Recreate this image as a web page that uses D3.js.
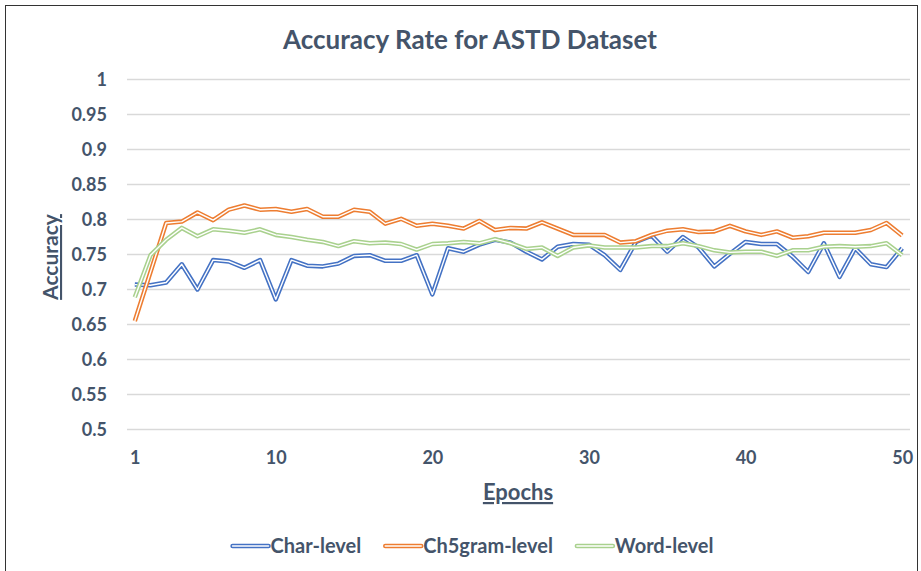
<!DOCTYPE html>
<html>
<head>
<meta charset="utf-8">
<script src="https://cdn.jsdelivr.net/npm/d3@7"></script>
<style>
  body { margin: 0; background: #fff; }
  text { font-family: Lato, "Open Sans", sans-serif; font-weight: 700; fill: #44546a; }
  .gridline line { stroke: #d9d9d9; stroke-width: 1.3; }
</style>
</head>
<body>
<svg id="chart" width="921" height="571"></svg>
<script>
// values
const epochs = d3.range(1, 51);
const charLevel = [0.707, 0.706, 0.710, 0.736, 0.700, 0.742, 0.740, 0.731, 0.742, 0.686,
  0.742, 0.734, 0.733, 0.737, 0.748, 0.749, 0.741, 0.741, 0.749, 0.693,
  0.759, 0.754, 0.764, 0.771, 0.767, 0.754, 0.743, 0.761, 0.765, 0.764,
  0.749, 0.728, 0.768, 0.777, 0.754, 0.775, 0.760, 0.733, 0.751, 0.768,
  0.765, 0.765, 0.747, 0.725, 0.766, 0.718, 0.759, 0.736, 0.732, 0.759];
const ch5gramLevel = [0.655, 0.725, 0.795, 0.797, 0.810, 0.799, 0.814, 0.820, 0.814, 0.815,
  0.811, 0.815, 0.804, 0.804, 0.814, 0.811, 0.794, 0.801, 0.791, 0.794,
  0.791, 0.787, 0.798, 0.785, 0.788, 0.787, 0.796, 0.787, 0.778, 0.778,
  0.778, 0.767, 0.769, 0.778, 0.784, 0.786, 0.782, 0.783, 0.791, 0.783,
  0.778, 0.783, 0.774, 0.776, 0.781, 0.781, 0.781, 0.785, 0.795, 0.777];
const wordLevel = [0.689, 0.749, 0.771, 0.788, 0.776, 0.786, 0.784, 0.781, 0.786, 0.778,
  0.775, 0.771, 0.768, 0.762, 0.769, 0.766, 0.767, 0.765, 0.757, 0.765,
  0.766, 0.768, 0.766, 0.772, 0.766, 0.758, 0.760, 0.748, 0.760, 0.763,
  0.760, 0.760, 0.760, 0.762, 0.762, 0.766, 0.762, 0.756, 0.753, 0.754,
  0.754, 0.748, 0.756, 0.756, 0.761, 0.762, 0.761, 0.762, 0.766, 0.749];
const seriesNames = ["Char-level", "Ch5gram-level", "Word-level"];
const seriesColors = ["#4472c4", "#ed7d31", "#a9d18e"];
const xTicks = [1, 10, 20, 30, 40, 50];
const yTicks = d3.range(0.5, 1.0001, 0.05);

const series = [charLevel, ch5gramLevel, wordLevel].map((vals, i) => ({
  name: seriesNames[i], color: seriesColors[i],
  values: vals.map((v, j) => ({ epoch: epochs[j], value: v }))
}));

const svg = d3.select("#chart");

// outer frame
svg.append("rect")
  .attr("x", 5.5).attr("y", 5.5)
  .attr("width", 912).attr("height", 600)
  .attr("fill", "none")
  .attr("stroke", "#333")
  .attr("stroke-width", 1);

let x = d3.scalePoint()
  .domain(epochs)
  .range([127, 910])
  .padding(0.5);
let y = d3.scaleLinear()
  .domain([0.5, 1])
  .range([429.5, 79.5]);

// gridlines
svg.append("g")
  .classed("gridline", true)
  .selectAll("line")
  .data(yTicks)
  .enter().append("line")
  .attr("x1", 127).attr("x2", 910)
  .attr("y1", d => y(d)).attr("y2", d => y(d));

// y axis labels
let yAxis = svg.append("g")
  .attr("transform", "translate(107,0)")
  .call(d3.axisLeft(y).tickValues(yTicks).tickSize(0).tickPadding(0).tickFormat(d => +d.toFixed(2)));
yAxis.select(".domain").remove();
yAxis.selectAll("text")
  .style("font-size", "18px")
  .attr("fill", "#44546a")
  .attr("dy", "0.35em");

// x axis labels
let xAxis = svg.append("g")
  .attr("transform", "translate(0,451)")
  .call(d3.axisBottom(x).tickValues(xTicks).tickSize(0).tickPadding(0));
xAxis.select(".domain").remove();
xAxis.selectAll("text")
  .style("font-size", "18px")
  .attr("fill", "#44546a");

// title
svg.append("text")
  .attr("x", 470).attr("y", 49)
  .attr("text-anchor", "middle")
  .style("font-size", "26px")
  .text("Accuracy Rate for ASTD Dataset");

// axis titles
svg.append("text")
  .attr("x", 518).attr("y", 500)
  .attr("text-anchor", "middle")
  .style("font-size", "22px")
  .style("text-decoration", "underline")
  .text("Epochs");
svg.append("text")
  .attr("transform", "translate(58,257) rotate(-90)")
  .attr("text-anchor", "middle")
  .style("font-size", "21px")
  .style("text-decoration", "underline")
  .text("Accuracy");

// lines, drawn double: coloured outer stroke with a white core
let line = d3.line()
  .x(d => x(d.epoch))
  .y(d => y(d.value));

let lines = svg.append("g").selectAll("g")
  .data(series)
  .enter().append("g");
lines.append("path")
  .attr("d", d => line(d.values))
  .attr("fill", "none")
  .attr("stroke", d => d.color)
  .attr("stroke-width", 4.5)
  .attr("stroke-linejoin", "round");
lines.append("path")
  .attr("d", d => line(d.values))
  .attr("fill", "none")
  .attr("stroke", "white")
  .attr("stroke-width", 1.4)
  .attr("stroke-linejoin", "round");

// legend, laid out from the measured text widths and centred
let legend = svg.append("g").selectAll("g")
  .data(series)
  .enter().append("g");
legend.append("line")
  .attr("x1", 0).attr("x2", 36)
  .attr("stroke", d => d.color)
  .attr("stroke-width", 4.5)
  .attr("stroke-linecap", "round");
legend.append("line")
  .attr("x1", 0).attr("x2", 36)
  .attr("stroke", "white")
  .attr("stroke-width", 1.4)
  .attr("stroke-linecap", "round");
legend.append("text")
  .attr("x", 38)
  .attr("dy", "0.35em")
  .style("font-size", "20px")
  .text(d => d.name);

let widths = [];
legend.each(function () { widths.push(this.getBBox().width); });
let gap = 24;
let total = d3.sum(widths) + gap * (widths.length - 1);
let pos = 473 - total / 2;
legend.attr("transform", (d, i) => {
  let t = "translate(" + pos + ",546)";
  pos += widths[i] + gap;
  return t;
});
</script>
</body>
</html>
